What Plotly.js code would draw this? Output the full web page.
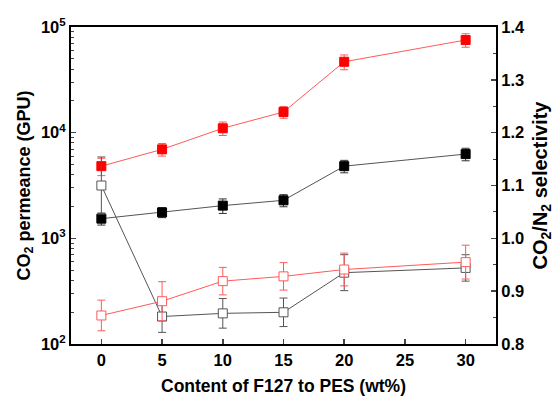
<!DOCTYPE html>
<html><head><meta charset="utf-8">
<script src="https://cdn.plot.ly/plotly-3.0.1.min.js"></script>
<style>html,body{margin:0;padding:0;background:#fff}#c{width:556px;height:396px}</style>
</head><body><div id="c"></div>
<script>
const content = [0, 5, 10, 15, 20, 30];
// CO2 permeance (GPU), left log axis
const permRed = [4820, 6950, 11000, 15700, 46900, 75300];
const permRedErr = [900, 950, 1600, 2000, 7500, 11000];
const permBlack = [1535, 1760, 2040, 2290, 4820, 6270];
const permBlackErr = [200, 190, 320, 300, 650, 850];
// CO2/N2 selectivity, right axis
const selRed = [0.854, 0.881, 0.919, 0.928, 0.941, 0.955];
const selRedErr = [0.029, 0.037, 0.026, 0.026, 0.031, 0.032];
const selBlack = [1.100, 0.852, 0.858, 0.860, 0.935, 0.944];
const selBlackErr = [0.054, 0.030, 0.028, 0.027, 0.034, 0.025];
const xTicks = [0, 5, 10, 15, 20, 25, 30];
const yTicks = [100, 1000, 10000, 100000];
const yTickText = ['10<sup>2</sup>', '10<sup>3</sup>', '10<sup>4</sup>', '10<sup>5</sup>'];
const y2Ticks = [0.8, 0.9, 1.0, 1.1, 1.2, 1.3, 1.4];
const y2TickText = ['0.8', '0.9', '1.0', '1.1', '1.2', '1.3', '1.4'];

const RED = '#ff0000', REDL = '#ff5a5a', BLK = '#000000', GRY = '#555555';
function tr(y, err, axis, fillColor, edge, lineCol, errCol) {
  return {
    x: content, y: y, yaxis: axis, type: 'scatter', mode: 'lines+markers',
    line: {color: lineCol, width: 1},
    marker: {symbol: 'square', size: 9, color: fillColor, line: {color: edge, width: 1}},
    error_y: {type: 'data', array: err, visible: true, color: errCol, thickness: 1, width: 4},
    showlegend: false, cliponaxis: false
  };
}
const data = [
  tr(selBlack, selBlackErr, 'y2', '#ffffff', GRY, GRY, GRY),
  tr(selRed, selRedErr, 'y2', '#ffffff', REDL, REDL, REDL),
  tr(permBlack, permBlackErr, 'y', BLK, BLK, GRY, '#333333'),
  tr(permRed, permRedErr, 'y', RED, RED, REDL, REDL)
];
const FAM = 'Liberation Sans, Arial, sans-serif';
const tickFont = {family: FAM, size: 16.5, color: '#000', weight: 'bold'};
const layout = {
  width: 556, height: 396,
  margin: {l: 71, r: 60, t: 27, b: 52},
  paper_bgcolor: '#fff', plot_bgcolor: '#fff',
  xaxis: {
    range: [-2.5, 32.5], tickvals: xTicks, ticks: 'inside', ticklen: 5, tickwidth: 1.5,
    showline: true, linewidth: 2, linecolor: '#000', mirror: true, showgrid: false, zeroline: false,
    tickfont: tickFont,
    title: {text: 'Content of F127 to PES (wt%)', font: {family: FAM, size: 17.5, color: '#000', weight: 'bold'}, standoff: 17}
  },
  yaxis: {
    type: 'log', range: [2, 5], tickvals: yTicks, ticktext: yTickText,
    ticks: 'inside', ticklen: 5, tickwidth: 1.5,
    minor: {ticks: 'inside', ticklen: 3, dtick: 'D1', tickwidth: 1, showgrid: false},
    showline: true, linewidth: 2, linecolor: '#000', showgrid: false, zeroline: false,
    tickfont: tickFont,
    title: {text: 'CO<sub>2</sub> permeance (GPU)', font: {family: FAM, size: 18, color: '#000', weight: 'bold'}, standoff: 6}
  },
  yaxis2: {
    overlaying: 'y', side: 'right', range: [0.8, 1.4], tickvals: y2Ticks, ticktext: y2TickText,
    ticks: 'inside', ticklen: 5, tickwidth: 1.5,
    minor: {ticks: 'inside', ticklen: 3, dtick: 0.05, tickwidth: 1, showgrid: false},
    showline: true, linewidth: 2, linecolor: '#000', showgrid: false, zeroline: false,
    tickfont: tickFont,
    title: {text: 'CO<sub>2</sub>/N<sub>2</sub> selectivity', font: {family: FAM, size: 20, color: '#000', weight: 'bold'}, standoff: 9}
  }
};
Plotly.newPlot('c', data, layout, {displayModeBar: false, staticPlot: true});
</script>
</body></html>
